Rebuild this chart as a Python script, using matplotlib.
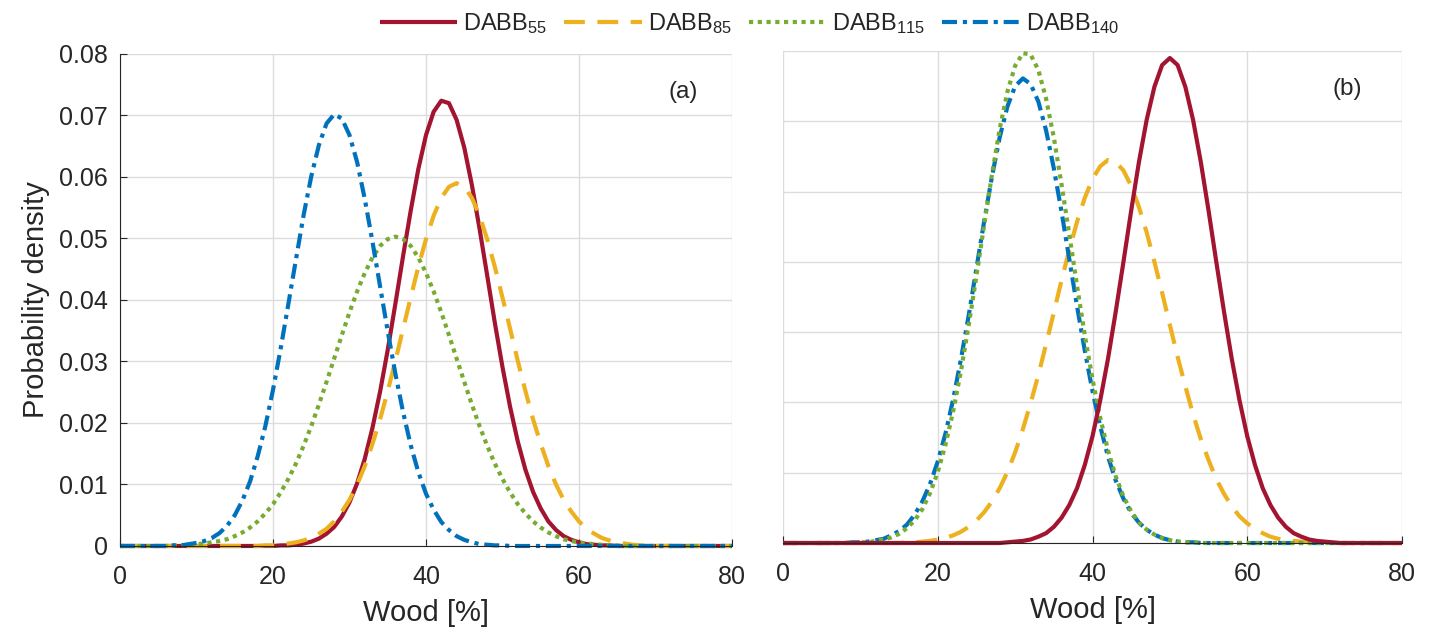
import matplotlib
matplotlib.use('Agg')
import matplotlib.pyplot as plt
import numpy as np

plt.rcParams['font.family'] = ['Liberation Sans', 'DejaVu Sans']
plt.rcParams['mathtext.fontset'] = 'custom'
plt.rcParams['mathtext.rm'] = 'Liberation Sans'
plt.rcParams['mathtext.it'] = 'Liberation Sans'

# ---------------- data (x = 0..80 step 1) -------------
wood = list(range(0, 81))
labels = ['DABB$_{55}$', 'DABB$_{85}$', 'DABB$_{115}$', 'DABB$_{140}$']

# panel (a), density x 1e-4
red_a = [0]*21 + [1, 1, 2, 4, 7, 12, 20, 31, 48, 71, 102, 142, 192, 251, 319, 394, 471, 545, 613, 668,
                  706, 724, 720, 693, 648, 587, 516, 440, 363, 291, 226, 170, 124, 88, 61, 40, 26, 16,
                  10, 6, 3, 2, 1, 1] + [0]*16
yel_a = [0]*19 + [1, 1, 2, 4, 6, 9, 13, 20, 28, 40, 56, 75, 100, 130, 166, 206, 252, 301, 353, 404, 454,
                  499, 537, 566, 584, 590, 584, 566, 537, 499, 454, 404, 353, 301, 252, 206, 166, 130,
                  100, 75, 56, 40, 28, 20, 13, 9, 6, 4, 2, 1, 1] + [0]*11
grn_a = [0]*7 + [1, 1, 2, 3, 4, 6, 8, 11, 16, 22, 30, 40, 53, 68, 87, 109, 134, 163, 195, 230, 267, 305,
                 343, 380, 414, 444, 469, 488, 499, 503, 499, 488, 469, 444, 414, 380, 343, 305, 267,
                 230, 195, 163, 134, 109, 87, 68, 53, 40, 30, 22, 16, 11, 8, 6, 4, 3, 2, 1, 1] + [0]*15
blu_a = [0]*7 + [1, 1, 3, 5, 8, 13, 21, 33, 50, 74, 105, 146, 195, 254, 321, 393, 466, 538, 601, 652,
                 687, 702, 695, 668, 624, 564, 495, 422, 349, 280, 218, 164, 120, 85, 59, 39, 26, 16,
                 10, 6, 3, 2, 1, 1] + [0]*30

# panel (b), density x 1e-4 (axis without tick labels)
red_b = [0]*29 + [1, 2, 3, 5, 9, 14, 23, 36, 54, 78, 111, 152, 203, 262, 329, 400, 473, 542, 602, 649,
                  680, 690, 680, 649, 602, 542, 473, 400, 329, 262, 203, 152, 111, 78, 54, 36, 23, 14,
                  9, 5, 3, 2, 1] + [0]*9
yel_b = [0]*16 + [1, 1, 2, 3, 5, 7, 11, 16, 23, 32, 44, 59, 78, 101, 129, 162, 199, 239, 283, 328, 374,
                  417, 457, 491, 518, 536, 545, 542, 530, 508, 478, 442, 400, 356, 310, 265, 223, 183,
                  148, 118, 91, 70, 52, 38, 28, 20, 14, 9, 6, 4, 3, 2, 1, 1] + [0]*11
grn_b = [0]*10 + [1, 1, 3, 5, 8, 13, 21, 32, 48, 71, 101, 140, 188, 245, 310, 380, 453, 524, 589, 642,
                  679, 697, 695, 673, 632, 577, 510, 439, 366, 296, 233, 178, 132, 95, 66, 45, 29, 19,
                  12, 7, 4, 2, 1, 1] + [0]*27
blu_b = [0]*9 + [1, 1, 2, 4, 6, 11, 17, 26, 40, 59, 84, 116, 156, 205, 262, 324, 391, 458, 521, 577,
                 621, 650, 661, 653, 628, 587, 533, 471, 404, 337, 274, 216, 166, 123, 89, 63, 43, 29,
                 19, 12, 7, 4, 2, 1, 1] + [0]*27

x_ticks = [0, 20, 40, 60, 80]
y_ticks_a = [0, 0.01, 0.02, 0.03, 0.04, 0.05, 0.06, 0.07, 0.08]
y_ticklabels_a = ['0', '0.01', '0.02', '0.03', '0.04', '0.05', '0.06', '0.07', '0.08']
y_ticks_b = [0, 0.01, 0.02, 0.03, 0.04, 0.05, 0.06, 0.07]

# ---------------- styles -------------
C_RED = '#A2142F'
C_YEL = '#EDB120'
C_GRN = '#77AC30'
C_BLU = '#0072BD'
LW = 3.0
styles = [
    dict(color=C_RED, ls='-'),
    dict(color=C_YEL, ls=(0, (5, 3))),
    dict(color=C_GRN, ls=(0, (1, 1.1))),
    dict(color=C_BLU, ls=(0, (3.6, 1.4, 1, 1.4))),
]
TXT = '#262626'
FS_TICK = 18
FS_LAB = 21
FS_LEG = 17

fig = plt.figure(figsize=(14.36, 6.32), dpi=100)
ax_a = fig.add_axes([0.0836, 0.1361, 0.4261, 0.7785])
ax_b = fig.add_axes([0.5453, 0.1408, 0.4310, 0.7785])

x = np.array(wood)
scale = 1e-4

series_a = [red_a, yel_a, grn_a, blu_a]
series_b = [red_b, yel_b, grn_b, blu_b]

handles = []
for vals, st, lab in zip(series_a, styles, labels):
    h, = ax_a.plot(x, np.array(vals) * scale, lw=LW, label=lab, clip_on=False,
                   solid_capstyle='butt', dash_capstyle='butt', **st)
    handles.append(h)

order_b = [1, 3, 2, 0]
for i in order_b:
    ax_b.plot(x, np.array(series_b[i]) * scale, lw=LW, clip_on=False,
              solid_capstyle='butt', dash_capstyle='butt', **styles[i])

for ax in (ax_a, ax_b):
    ax.set_xlim(0, 80)
    ax.set_xticks(x_ticks)
    ax.grid(True, color='#dcdcdc', lw=1.0)
    ax.set_axisbelow(True)
    ax.spines['top'].set_visible(False)
    ax.spines['right'].set_visible(False)
    ax.spines['bottom'].set_color(TXT)
    ax.spines['left'].set_color(TXT)
    ax.tick_params(axis='both', direction='in', length=5, color=TXT, labelcolor=TXT,
                   labelsize=FS_TICK)
    ax.tick_params(axis='x', pad=14)
    ax.tick_params(axis='y', pad=9)
    ax.set_xlabel('Wood [%]', fontsize=FS_LAB, color=TXT, labelpad=7)
    ax.set_facecolor('white')

ax_a.set_ylim(0, 0.08)
ax_a.set_yticks(y_ticks_a)
ax_a.set_yticklabels(y_ticklabels_a)
ax_a.set_ylabel('Probability density', fontsize=FS_LAB, color=TXT, labelpad=6)

ax_b.set_ylim(0, 0.07)
ax_b.set_yticks(y_ticks_b)
ax_b.tick_params(axis='y', length=0, labelleft=False)
ax_b.spines['left'].set_visible(False)

ax_a.text(0.92, 0.923, '(a)', transform=ax_a.transAxes, fontsize=17.5, color=TXT,
          ha='center', va='center')
ax_b.text(0.911, 0.923, '(b)', transform=ax_b.transAxes, fontsize=17.5, color=TXT,
          ha='center', va='center')

leg = fig.legend(handles=handles, labels=labels, loc='center', bbox_to_anchor=(0.522, 0.962),
                 ncol=4, frameon=False, fontsize=FS_LEG, handlelength=3.3, handletextpad=0.25,
                 columnspacing=0.7, labelcolor=TXT)

fig.savefig('out.png', dpi=100, facecolor='white')
